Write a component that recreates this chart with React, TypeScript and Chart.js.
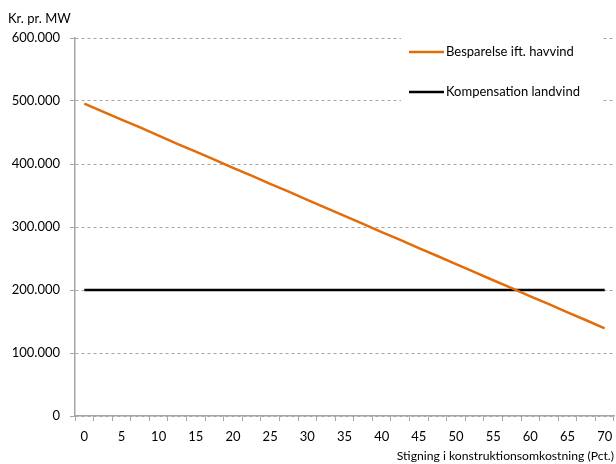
import React, { useEffect, useRef } from "react";
import { Chart, registerables } from "chart.js";

Chart.register(...registerables);

const categories = [
  "0", "2.5", "5", "7.5", "10", "12.5", "15", "17.5", "20", "22.5",
  "25", "27.5", "30", "32.5", "35", "37.5", "40", "42.5", "45", "47.5",
  "50", "52.5", "55", "57.5", "60", "62.5", "65", "67.5", "70",
];

const besparelse = [
  496000, 483000, 470500, 458000, 445000, 432000, 419500, 407000, 394000, 381500,
  368500, 356000, 343000, 330500, 317500, 305000, 292000, 279500, 266500, 254000,
  241000, 228500, 215500, 203000, 190000, 177500, 164500, 152000, 139000,
];

const kompensation = [
  200000, 200000, 200000, 200000, 200000, 200000, 200000, 200000, 200000, 200000,
  200000, 200000, 200000, 200000, 200000, 200000, 200000, 200000, 200000, 200000,
  200000, 200000, 200000, 200000, 200000, 200000, 200000, 200000, 200000,
];

const seriesNames = ["Besparelse ift. havvind", "Kompensation landvind"];
const seriesColors = ["#E36C0A", "#000000"];
const yTitle = "Kr. pr. MW";
const xTitle = "Stigning i konstruktionsomkostning (Pct.)";

const FONT = "Lato, 'Liberation Sans', sans-serif";

function fmt(v: number): string {
  return String(Math.round(v)).replace(/\B(?=(\d{3})+(?!\d))/g, ".");
}

export default function App() {
  const ref = useRef<HTMLCanvasElement | null>(null);

  useEffect(() => {
    if (!ref.current) return;

    const overlay = {
      id: "overlay",
      afterDraw(chart: any) {
        const ctx = chart.ctx;
        ctx.save();
        ctx.fillStyle = "#000";
        ctx.font = `13px ${FONT}`;
        ctx.textAlign = "left";
        ctx.textBaseline = "middle";
        ctx.fillText(yTitle, 8, 19);
        ctx.fillStyle = "#fff";
        ctx.fillRect(401, 30, 201, 78);
        const ys = [52, 92];
        for (let i = 0; i < 2; i++) {
          ctx.strokeStyle = seriesColors[i];
          ctx.lineWidth = 2.5;
          ctx.beginPath();
          ctx.moveTo(409, ys[i]);
          ctx.lineTo(444, ys[i]);
          ctx.stroke();
          ctx.fillStyle = "#000";
          ctx.fillText(seriesNames[i], 446, ys[i]);
        }
        ctx.restore();
      },
    };

    const chart = new Chart(ref.current, {
      type: "line",
      data: {
        labels: categories,
        datasets: [
          {
            label: seriesNames[0],
            data: besparelse,
            borderColor: seriesColors[0],
            borderWidth: 2.5,
            pointRadius: 0,
            tension: 0,
          },
          {
            label: seriesNames[1],
            data: kompensation,
            borderColor: seriesColors[1],
            borderWidth: 2.5,
            pointRadius: 0,
            tension: 0,
          },
        ],
      },
      options: {
        animation: false,
        responsive: false,
        maintainAspectRatio: false,
        layout: { padding: { left: 8, right: 2, top: 38, bottom: 1 } },
        plugins: {
          legend: { display: false },
          tooltip: { enabled: false },
          title: { display: false },
        },
        scales: {
          x: {
            type: "category",
            offset: true,
            afterFit: (s: any) => {
              s.height = 47;
              s.paddingLeft = 0;
              s.paddingRight = 0;
            },
            grid: {
              offset: true,
              drawOnChartArea: false,
              drawTicks: true,
              tickLength: 5,
              color: "#A6A6A6",
              lineWidth: 1,
            },
            border: { color: "#A6A6A6", width: 1.5 },
            ticks: {
              autoSkip: false,
              maxRotation: 0,
              minRotation: 0,
              padding: 8,
              color: "#000",
              font: { family: FONT, size: 13 },
              callback: function (this: any, value: any) {
                const lab = this.getLabelForValue(value);
                const n = parseFloat(lab);
                return n % 5 === 0 ? lab : "";
              },
            },
            title: {
              display: true,
              text: xTitle,
              align: "end",
              color: "#000",
              font: { family: FONT, size: 12.2 },
              padding: { top: 2, bottom: 0 },
            },
          },
          y: {
            min: 0,
            max: 600000,
            afterFit: (s: any) => {
              s.width = 67;
              s.paddingTop = 0;
              s.paddingBottom = 0;
            },
            grid: {
              color: "#A6A6A6",
              lineWidth: 1,
              tickLength: 5,
              tickBorderDash: [],
              tickColor: "#A6A6A6",
            },
            border: { color: "#A6A6A6", width: 1.5, dash: [3, 3] },
            ticks: {
              stepSize: 100000,
              padding: 10,
              color: "#000",
              font: { family: FONT, size: 13 },
              callback: (v: any) => fmt(Number(v)),
            },
          },
        },
      },
      plugins: [overlay],
    } as any);

    return () => chart.destroy();
  }, []);

  return (
    <div style={{ position: "absolute", left: 0, top: 0, width: 616, height: 464, background: "#fff" }}>
      <canvas ref={ref} width={616} height={464} style={{ width: 616, height: 464 }} />
    </div>
  );
}
